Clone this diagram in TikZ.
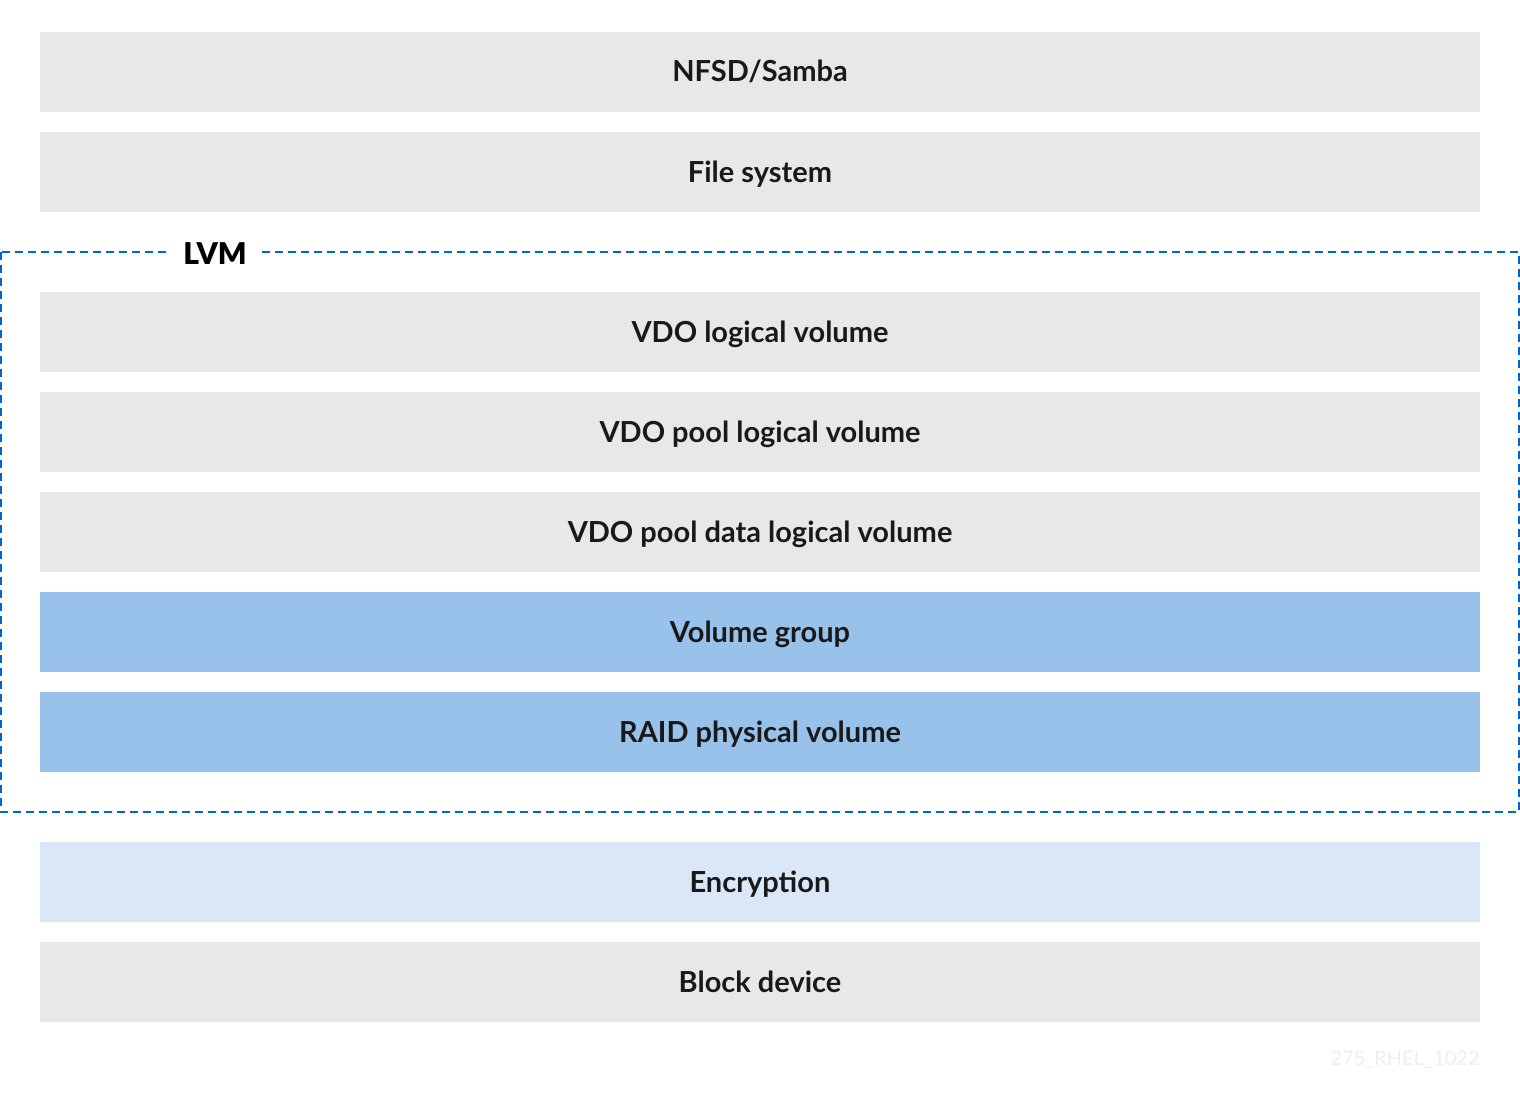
\documentclass[tikz,border=0pt]{standalone}
\usepackage{fontspec}
\setmainfont{Lato}
\newfontfamily\lvmfont{Lato Black}
\usepackage{tikz}
\usetikzlibrary{positioning}

\definecolor{layergray}{HTML}{E8E8E8}
\definecolor{layerblue}{HTML}{99C2EA}
\definecolor{layerpale}{HTML}{DAE7F6}
\definecolor{lvmblue}{HTML}{0066CC}
\definecolor{markgray}{HTML}{EEEEEE}

\tikzset{
  layer/.style={fill=layergray, minimum width=720pt, minimum height=40pt, inner sep=0pt,
    text height=11pt, text depth=1pt,
    font=\fontsize{14.5}{16}\selectfont\bfseries, text=black!90},
  vgblue/.style={layer, fill=layerblue},
  cryptblue/.style={layer, fill=layerpale},
  lvmframe/.style={draw=lvmblue, line width=1pt, dash pattern=on 4pt off 2.5pt}
}

\begin{document}
\begin{tikzpicture}[line cap=butt,line join=miter,x=0.5pt,y=-0.5pt]

\useasboundingbox (0,0) rectangle (1520,1102);
\fill[white] (0,0) rectangle (1520,1102);

% the stack, top to bottom
\node[layer] (nfsd) at (760,72) {NFSD/Samba};
\node[layer] (fs) at (760,172) {File system};

% LVM part
\draw[lvmframe] (1,252) rectangle (1519,812);
\node[fill=white, inner xsep=6pt, inner ysep=2pt, font=\fontsize{15}{17}\selectfont\lvmfont] (lvm) at (215,254) {LVM};

\node[layer] (vdolv) at (760,332) {VDO logical volume};
\node[layer] (vdopool) at (760,432) {VDO pool logical volume};
\node[layer] (vdodata) at (760,532) {VDO pool data logical volume};
\node[vgblue] (vg) at (760,632) {Volume group};
\node[vgblue] (raidpv) at (760,732) {RAID physical volume};

% below LVM
\node[cryptblue] (crypt) at (760,882) {Encryption};
\node[layer] (blockdev) at (760,982) {Block device};

\node[anchor=east, inner sep=0pt, text=markgray, font=\fontsize{10}{12}\selectfont] (mark) at (1480,1060) {275\_RHEL\_1022};
\end{tikzpicture}
\end{document}
